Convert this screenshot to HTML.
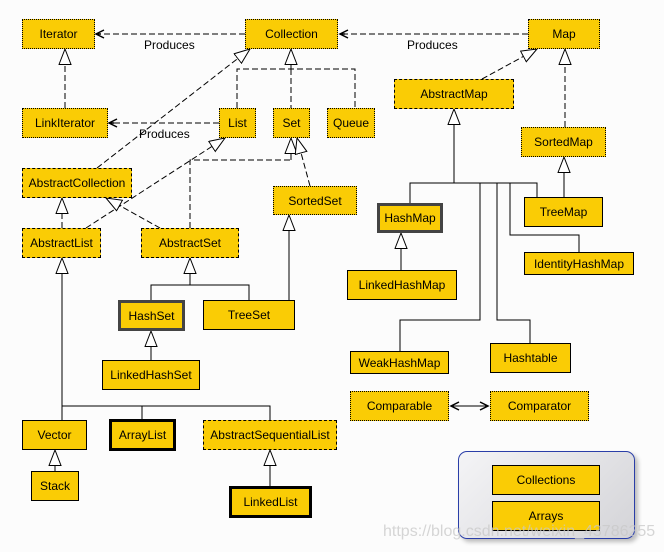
<!DOCTYPE html>
<html><head><meta charset="utf-8"><style>
body{margin:0;width:664px;height:552px;background:#fcfcfc;position:relative;overflow:hidden;font-family:"Liberation Sans",sans-serif;}
.b{position:absolute;box-sizing:border-box;background:#facc05;font-size:12px;color:#000;display:flex;align-items:center;justify-content:center;white-space:nowrap;}
.i{border:1px dotted #000}
.a{border:1px dashed #000}
.c{border:1px solid #000}
.t{border:3px solid #000}
.g{border:3px solid #444}
.l{position:absolute;font-size:12px;}
svg{position:absolute;left:0;top:0}
</style></head><body>
<div style="position:absolute;left:458px;top:451px;width:177px;height:88px;box-sizing:border-box;border:1px solid #2a3ea8;border-radius:9px;background:linear-gradient(135deg,#f4f4f6,#d4d4d8);box-shadow:3px 3px 4px #bbb"></div>
<svg width="664" height="552">
<defs>
<marker id="tri" markerUnits="userSpaceOnUse" markerWidth="18" markerHeight="14" refX="16" refY="6.5" orient="auto"><path d="M0.5,0.5 L16,6.5 L0.5,12.5 z" fill="#fff" stroke="#000" stroke-width="1" stroke-dasharray="none"/></marker>
<marker id="arr" markerUnits="userSpaceOnUse" markerWidth="12" markerHeight="12" refX="9" refY="5" orient="auto"><path d="M1,1 L9,5 L1,9 M9,5 L4,5" fill="none" stroke="#000" stroke-width="1.5" stroke-dasharray="none"/></marker>
<marker id="arrs" markerUnits="userSpaceOnUse" markerWidth="12" markerHeight="12" refX="9" refY="5" orient="auto-start-reverse"><path d="M1,1 L9,5 L1,9" fill="none" stroke="#000" stroke-width="1.5"/></marker>
</defs>
<g stroke="#000" stroke-width="1" fill="none">
<g stroke-dasharray="6,3">
<line x1="245" y1="34" x2="96" y2="34" marker-end="url(#arr)"/>
<line x1="528" y1="34" x2="340" y2="34" marker-end="url(#arr)"/>
<line x1="219" y1="123" x2="109" y2="123" marker-end="url(#arr)"/>
<line x1="65" y1="108" x2="65" y2="49" marker-end="url(#tri)"/>
<line x1="291" y1="69" x2="291" y2="49" marker-end="url(#tri)"/>
<polyline points="237,108 237,69 355,69 355,108"/>
<line x1="291" y1="69" x2="291" y2="108"/>
<line x1="97" y1="168" x2="250" y2="49" marker-end="url(#tri)"/>
<line x1="86" y1="228" x2="225" y2="138" marker-end="url(#tri)"/>
<polyline points="190,228 190,160 291,160"/>
<line x1="291" y1="160" x2="291" y2="138" marker-end="url(#tri)"/>
<line x1="310" y1="186" x2="297" y2="138" marker-end="url(#tri)"/>
<line x1="160" y1="228" x2="106" y2="198" marker-end="url(#tri)"/>
<line x1="62" y1="228" x2="62" y2="198" marker-end="url(#tri)"/>
<line x1="482" y1="79" x2="537" y2="49" marker-end="url(#tri)"/>
<line x1="565" y1="127" x2="565" y2="49" marker-end="url(#tri)"/>
</g>
<line x1="564" y1="197" x2="564" y2="157" marker-end="url(#tri)"/>
<line x1="454" y1="183" x2="454" y2="109" marker-end="url(#tri)"/>
<polyline points="410,203 410,183 537,183 537,197"/>
<polyline points="480,183 480,320 400,320 400,351"/>
<polyline points="497,183 497,320 530,320 530,343"/>
<polyline points="510,183 510,235 579,235 579,252"/>
<line x1="401" y1="270" x2="401" y2="233" marker-end="url(#tri)"/>
<line x1="190" y1="285" x2="190" y2="258" marker-end="url(#tri)"/>
<polyline points="151,300 151,285 249,285 249,300"/>
<line x1="289" y1="300" x2="289" y2="215" marker-end="url(#tri)"/>
<line x1="151" y1="360" x2="151" y2="331" marker-end="url(#tri)"/>
<line x1="62" y1="406" x2="62" y2="258" marker-end="url(#tri)"/>
<polyline points="62,420 62,406 270,406 270,420"/>
<line x1="142" y1="406" x2="142" y2="420"/>
<line x1="55" y1="471" x2="55" y2="450" marker-end="url(#tri)"/>
<line x1="270" y1="486" x2="270" y2="450" marker-end="url(#tri)"/>
<line x1="451" y1="406" x2="488" y2="406" marker-start="url(#arrs)" marker-end="url(#arrs)"/>
</g>
</svg>
<div class="l" style="left:144px;top:38px">Produces</div>
<div class="l" style="left:407px;top:38px">Produces</div>
<div class="l" style="left:139px;top:127px">Produces</div>
<div class="b i" style="left:22px;top:19px;width:73px;height:30px">Iterator</div>
<div class="b i" style="left:245px;top:19px;width:93px;height:30px">Collection</div>
<div class="b i" style="left:528px;top:19px;width:72px;height:30px">Map</div>
<div class="b i" style="left:22px;top:108px;width:86px;height:30px">LinkIterator</div>
<div class="b i" style="left:219px;top:108px;width:37px;height:30px">List</div>
<div class="b i" style="left:273px;top:108px;width:37px;height:30px">Set</div>
<div class="b i" style="left:327px;top:108px;width:48px;height:30px">Queue</div>
<div class="b a" style="left:394px;top:79px;width:120px;height:30px">AbstractMap</div>
<div class="b i" style="left:521px;top:127px;width:85px;height:30px">SortedMap</div>
<div class="b a" style="left:22px;top:168px;width:110px;height:30px">AbstractCollection</div>
<div class="b i" style="left:273px;top:186px;width:84px;height:29px">SortedSet</div>
<div class="b a" style="left:22px;top:228px;width:79px;height:30px">AbstractList</div>
<div class="b a" style="left:141px;top:228px;width:98px;height:30px">AbstractSet</div>
<div class="b g" style="left:377px;top:203px;width:66px;height:30px">HashMap</div>
<div class="b c" style="left:524px;top:197px;width:79px;height:30px">TreeMap</div>
<div class="b c" style="left:524px;top:252px;width:110px;height:23px">IdentityHashMap</div>
<div class="b c" style="left:347px;top:270px;width:110px;height:30px">LinkedHashMap</div>
<div class="b g" style="left:118px;top:300px;width:67px;height:31px">HashSet</div>
<div class="b c" style="left:203px;top:300px;width:92px;height:30px">TreeSet</div>
<div class="b c" style="left:102px;top:360px;width:98px;height:30px">LinkedHashSet</div>
<div class="b c" style="left:350px;top:351px;width:99px;height:23px">WeakHashMap</div>
<div class="b c" style="left:490px;top:343px;width:81px;height:30px">Hashtable</div>
<div class="b i" style="left:350px;top:391px;width:99px;height:30px">Comparable</div>
<div class="b i" style="left:490px;top:391px;width:99px;height:30px">Comparator</div>
<div class="b c" style="left:22px;top:420px;width:65px;height:30px">Vector</div>
<div class="b t" style="left:109px;top:419px;width:67px;height:32px">ArrayList</div>
<div class="b a" style="left:203px;top:420px;width:134px;height:30px">AbstractSequentialList</div>
<div class="b c" style="left:31px;top:471px;width:48px;height:30px">Stack</div>
<div class="b t" style="left:229px;top:486px;width:83px;height:32px">LinkedList</div>
<div class="b c" style="left:492px;top:465px;width:108px;height:30px">Collections</div>
<div class="b c" style="left:492px;top:501px;width:108px;height:30px">Arrays</div>
<div class="l" style="left:383px;top:523px;font-size:16px;color:rgba(200,200,200,0.75)">https://blog.csdn.net/weixin_43786255</div>
</body></html>
